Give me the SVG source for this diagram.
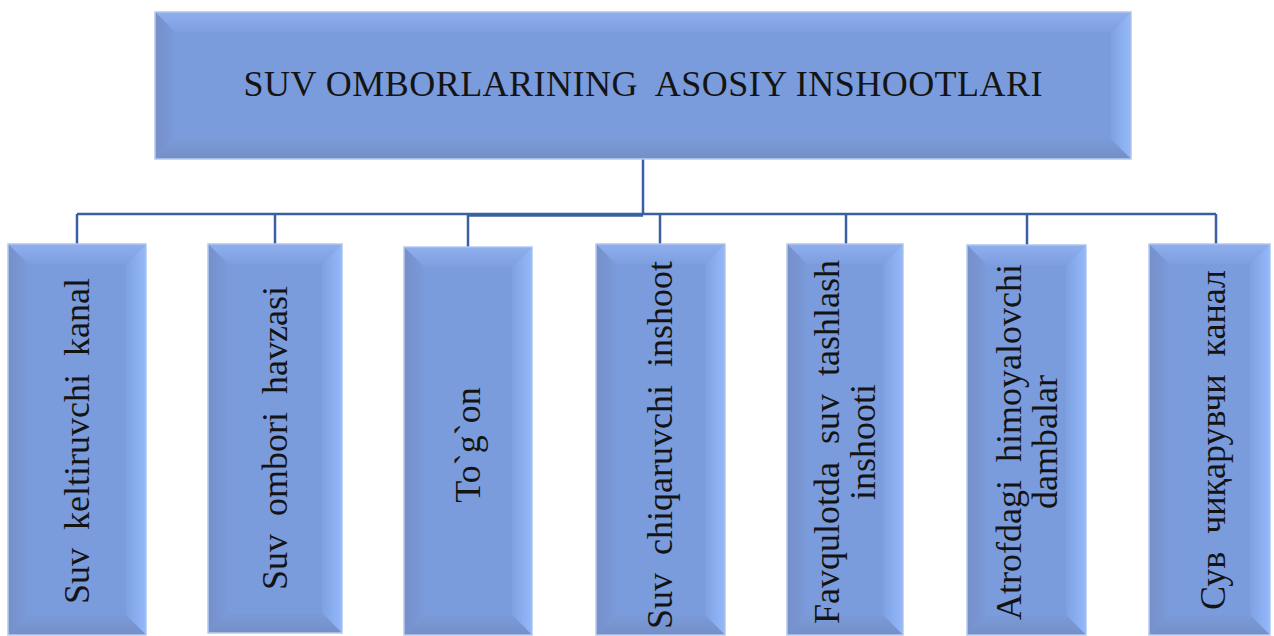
<svg xmlns="http://www.w3.org/2000/svg" width="1274" height="636" viewBox="0 0 1274 636">
<defs>
<linearGradient id="gT" x1="0" y1="0" x2="0" y2="1"><stop offset="0" stop-color="#8eaeee"/><stop offset="1" stop-color="#7d9edf"/></linearGradient>
<linearGradient id="gL" x1="0" y1="0" x2="1" y2="0"><stop offset="0" stop-color="#7690cb"/><stop offset="1" stop-color="#7a9ad9"/></linearGradient>
<linearGradient id="gR" x1="0" y1="0" x2="1" y2="0"><stop offset="0" stop-color="#7fa1e2"/><stop offset="1" stop-color="#93b8fa"/></linearGradient>
<linearGradient id="gB" x1="0" y1="0" x2="0" y2="1"><stop offset="0" stop-color="#7a9ad8"/><stop offset="1" stop-color="#7590c8"/></linearGradient>
</defs>
<style>
.face{fill:#7b9cdc;stroke:#b4c8ec;stroke-width:1.5}
.bt{fill:url(#gT)}
.bl{fill:url(#gL)}
.br{fill:url(#gR)}
.bb{fill:url(#gB)}
.lbl{font-family:"Liberation Serif","Times New Roman",serif;font-size:36px;fill:#141414}
.conn{stroke:#3a5fa3;stroke-width:2.5;fill:none}
</style>
<rect width="1274" height="636" fill="#ffffff"/>
<g id="connectors">
<line class="conn" x1="643" y1="159" x2="643" y2="215"/>
<line class="conn" x1="77" y1="214" x2="1216" y2="214"/>
<line class="conn" x1="468" y1="215.5" x2="643" y2="215.5" stroke-width="3"/>
<line class="conn" x1="77" y1="214" x2="77" y2="244"/>
<line class="conn" x1="275" y1="214" x2="275" y2="244"/>
<line class="conn" x1="468" y1="215" x2="468" y2="247"/>
<line class="conn" x1="660" y1="214" x2="660" y2="244"/>
<line class="conn" x1="846" y1="214" x2="846" y2="244"/>
<line class="conn" x1="1027" y1="214" x2="1027" y2="245"/>
<line class="conn" x1="1216" y1="214" x2="1216" y2="244"/>
</g>
<g id="root">
<rect class="face" x="155" y="12" width="976" height="147"/>
<polygon class="bt" points="156,13 1130,13 1111,32 175,32"/>
<polygon class="bl" points="156,13 175,32 175,139 156,158"/>
<polygon class="br" points="1130,13 1130,158 1111,139 1111,32"/>
<polygon class="bb" points="156,158 1130,158 1111,139 175,139"/>
<rect x="175" y="32" width="936" height="107" fill="#7b9cdc"/>
<text class="lbl" x="643" y="96" text-anchor="middle" textLength="799" xml:space="preserve">SUV OMBORLARINING  ASOSIY INSHOOTLARI</text>
</g>
<g id="n1">
<rect class="face" x="8" y="244" width="138" height="391"/>
<polygon class="bt" points="9,245 145,245 126,264 28,264"/>
<polygon class="bl" points="9,245 28,264 28,615 9,634"/>
<polygon class="br" points="145,245 145,634 126,615 126,264"/>
<polygon class="bb" points="9,634 145,634 126,615 28,615"/>
<rect x="28" y="264" width="98" height="351" fill="#7b9cdc"/>
<text class="lbl" transform="translate(77,441) rotate(-90)" x="0" y="12" text-anchor="middle" xml:space="preserve">Suv  keltiruvchi  kanal</text>
</g>
<g id="n2">
<rect class="face" x="208" y="244" width="134" height="389"/>
<polygon class="bt" points="209,245 341,245 322,264 228,264"/>
<polygon class="bl" points="209,245 228,264 228,613 209,632"/>
<polygon class="br" points="341,245 341,632 322,613 322,264"/>
<polygon class="bb" points="209,632 341,632 322,613 228,613"/>
<rect x="228" y="264" width="94" height="349" fill="#7b9cdc"/>
<text class="lbl" transform="translate(275,438) rotate(-90)" x="0" y="12" text-anchor="middle" xml:space="preserve">Suv  ombori  havzasi</text>
</g>
<g id="n3">
<rect class="face" x="404" y="247" width="128" height="388"/>
<polygon class="bt" points="405,248 531,248 512,267 424,267"/>
<polygon class="bl" points="405,248 424,267 424,615 405,634"/>
<polygon class="br" points="531,248 531,634 512,615 512,267"/>
<polygon class="bb" points="405,634 531,634 512,615 424,615"/>
<rect x="424" y="267" width="88" height="348" fill="#7b9cdc"/>
<text class="lbl" transform="translate(468,445) rotate(-90)" x="0" y="12" text-anchor="middle">To`g`on</text>
</g>
<g id="n4">
<rect class="face" x="596" y="244" width="129" height="391"/>
<polygon class="bt" points="597,245 724,245 705,264 616,264"/>
<polygon class="bl" points="597,245 616,264 616,615 597,634"/>
<polygon class="br" points="724,245 724,634 705,615 705,264"/>
<polygon class="bb" points="597,634 724,634 705,615 616,615"/>
<rect x="616" y="264" width="89" height="351" fill="#7b9cdc"/>
<text class="lbl" transform="translate(660,445) rotate(-90)" x="0" y="12" text-anchor="middle" xml:space="preserve">Suv  chiqaruvchi  inshoot</text>
</g>
<g id="n5">
<rect class="face" x="787" y="244" width="116" height="391"/>
<polygon class="bt" points="788,245 902,245 883,264 807,264"/>
<polygon class="bl" points="788,245 807,264 807,615 788,634"/>
<polygon class="br" points="902,245 902,634 883,615 883,264"/>
<polygon class="bb" points="788,634 902,634 883,615 807,615"/>
<rect x="807" y="264" width="76" height="351" fill="#7b9cdc"/>
<text class="lbl" transform="translate(845,442) rotate(-90)" text-anchor="middle" xml:space="preserve"><tspan x="0" y="-6">Favqulotda  suv  tashlash</tspan><tspan x="0" y="30">inshooti</tspan></text>
</g>
<g id="n6">
<rect class="face" x="967" y="245" width="119" height="390"/>
<polygon class="bt" points="968,246 1085,246 1066,265 987,265"/>
<polygon class="bl" points="968,246 987,265 987,615 968,634"/>
<polygon class="br" points="1085,246 1085,634 1066,615 1066,265"/>
<polygon class="bb" points="968,634 1085,634 1066,615 987,615"/>
<rect x="987" y="265" width="79" height="350" fill="#7b9cdc"/>
<text class="lbl" transform="translate(1027,442) rotate(-90)" text-anchor="middle" xml:space="preserve"><tspan x="0" y="-6">Atrofdagi  himoyalovchi</tspan><tspan x="0" y="30">dambalar</tspan></text>
</g>
<g id="n7">
<rect class="face" x="1149" y="244" width="121" height="391"/>
<polygon class="bt" points="1150,245 1269,245 1250,264 1169,264"/>
<polygon class="bl" points="1150,245 1169,264 1169,615 1150,634"/>
<polygon class="br" points="1269,245 1269,634 1250,615 1250,264"/>
<polygon class="bb" points="1150,634 1269,634 1250,615 1169,615"/>
<rect x="1169" y="264" width="81" height="351" fill="#7b9cdc"/>
<text class="lbl" transform="translate(1213,440) rotate(-90)" x="0" y="12" text-anchor="middle" xml:space="preserve">Сув  чиқарувчи  канал</text>
</g>
</svg>
